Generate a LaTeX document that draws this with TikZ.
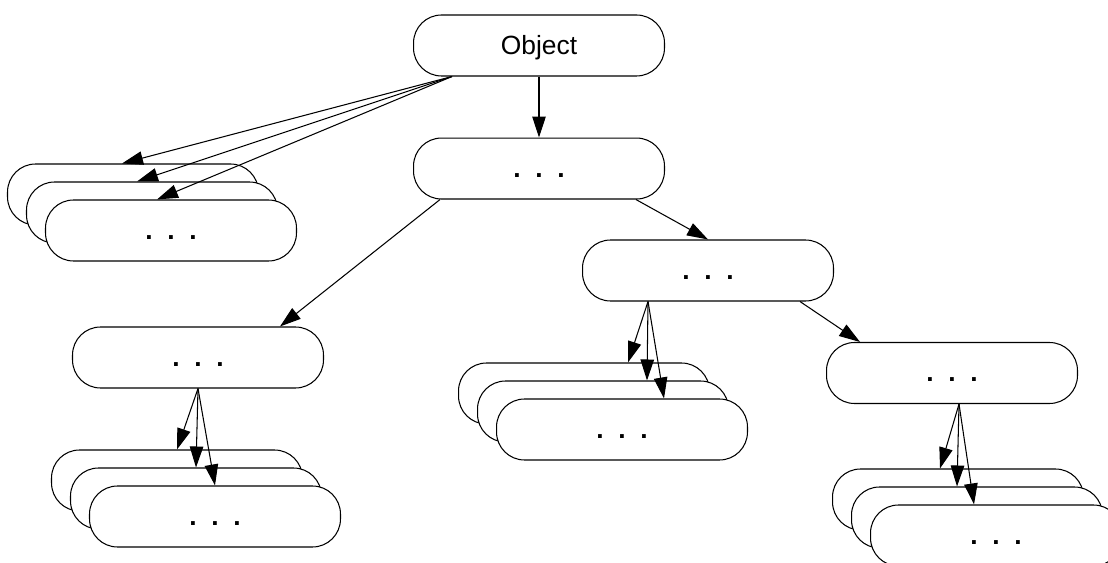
\documentclass[tikz,border=0pt]{standalone}
\usepackage{fontspec}
\setmainfont{Liberation Sans}
\usetikzlibrary{positioning, arrows.meta}

\begin{document}
\begin{tikzpicture}[
        x=0.02cm, y=-0.02cm,
        line width=0.6pt,
        node distance=1.22cm,
        class/.style={
            draw,
            rectangle,
            rounded corners=0.56cm,
            minimum height=1.22cm,
            minimum width=5.02cm,
            inner sep=0pt,
            text height=0.36cm,
            text depth=0cm,
            fill=white,
            font=\fontsize{15}{17}\selectfont
        },
        arrow/.style={-{Triangle[length=0.42cm, width=0.27cm]}}
    ]
        \useasboundingbox[fill=white] (0,0) rectangle (1108,563);

        \node[class] (object) at (539,45.5) {Object};

        \node[class, below=of object] (mid) {\textbf{.\ \ .\ \ .}};

        \node[class] (midleft) at (198,357.5) {\textbf{.\ \ .\ \ .}};
        \node[class] (midright) at (708,270.5) {\textbf{.\ \ .\ \ .}};
        \node[class] (far) at (952,373) {\textbf{.\ \ .\ \ .}};

        % stacks of objects
        \node[class] (objstack1) at (133,194.5) {};
        \node[class] (objstack2) at ([shift={(19,18)}]objstack1) {};
        \node[class] (objstack3) at ([shift={(19,18)}]objstack2) {\textbf{.\ \ .\ \ .}};

        \node[class] (leftstack1) at (177,480.5) {};
        \node[class] (leftstack2) at ([shift={(19,18)}]leftstack1) {};
        \node[class] (leftstack3) at ([shift={(19,18)}]leftstack2) {\textbf{.\ \ .\ \ .}};

        \node[class] (rightstack1) at (584,393.5) {};
        \node[class] (rightstack2) at ([shift={(19,18)}]rightstack1) {};
        \node[class] (rightstack3) at ([shift={(19,18)}]rightstack2) {\textbf{.\ \ .\ \ .}};

        \node[class] (farstack1) at (958,499.5) {};
        \node[class] (farstack2) at ([shift={(19,18)}]farstack1) {};
        \node[class] (farstack3) at ([shift={(19,18)}]farstack2) {\textbf{.\ \ .\ \ .}};

        \draw[arrow] (object) -- (mid);
        \draw[arrow] ([xshift=-1.74cm]object.south) -- ([xshift=-0.22cm]objstack1.north);
        \draw[arrow] ([xshift=-1.74cm]object.south) -- ([xshift=-0.3cm]objstack2.north);
        \draw[arrow] ([xshift=-1.74cm]object.south) -- ([xshift=-0.28cm]objstack3.north);

        \draw[arrow] ([xshift=-1.98cm]mid.south) -- ([xshift=1.64cm]midleft.north);
        \draw[arrow] ([xshift=1.94cm]mid.south) -- (midright.north);

        \draw[arrow] (midleft.south) -- (leftstack1.north);
        \draw[arrow] (midleft.south) -- (leftstack2.north);
        \draw[arrow] (midleft.south) -- (leftstack3.north);

        \draw[arrow] ([xshift=-1.2cm]midright.south) -- ([xshift=0.88cm]rightstack1.north);
        \draw[arrow] ([xshift=-1.2cm]midright.south) -- ([xshift=0.88cm]rightstack2.north);
        \draw[arrow] ([xshift=-1.2cm]midright.south) -- ([xshift=0.84cm]rightstack3.north);
        \draw[arrow] ([xshift=1.84cm]midright.south) -- ([xshift=-1.84cm]far.north);

        \draw[arrow] ([xshift=0.14cm]far.south) -- ([xshift=-0.36cm]farstack1.north);
        \draw[arrow] ([xshift=0.14cm]far.south) -- ([xshift=-0.4cm]farstack2.north);
        \draw[arrow] ([xshift=0.14cm]far.south) -- ([xshift=-0.44cm]farstack3.north);

    \end{tikzpicture}
\end{document}
